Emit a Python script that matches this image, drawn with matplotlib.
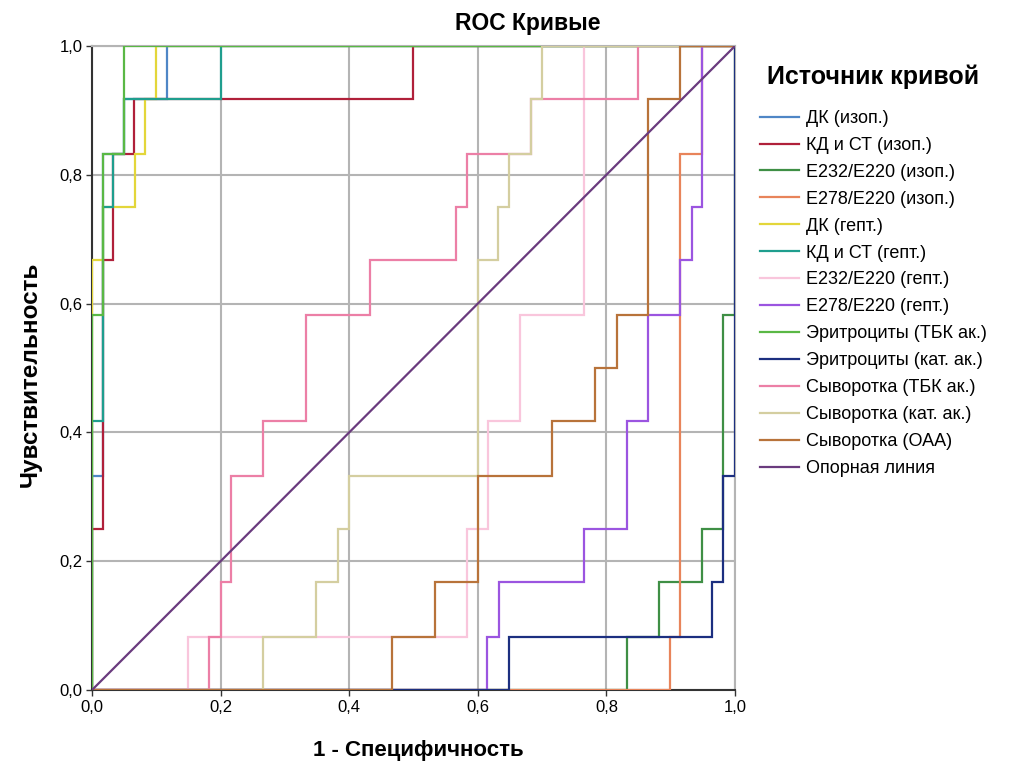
import matplotlib.pyplot as plt
from matplotlib.lines import Line2D

plt.rcParams['font.family'] = ['Liberation Sans', 'DejaVu Sans']

# ROC curve vertices (1 - specificity, sensitivity)
dk_izop_x = [0, 0, 0.0166, 0.0166, 0.05, 0.05, 0.116, 0.116, 1]
dk_izop_y = [0, 0.333, 0.333, 0.833, 0.833, 0.917, 0.917, 1, 1]

kd_izop_x = [0, 0, 0.0166, 0.0166, 0.033, 0.033, 0.066, 0.066, 0.5, 0.5, 1]
kd_izop_y = [0, 0.25, 0.25, 0.667, 0.667, 0.833, 0.833, 0.917, 0.917, 1, 1]

e232_izop_x = [0, 0.832, 0.832, 0.882, 0.882, 0.948, 0.948, 0.982, 0.982, 1, 1]
e232_izop_y = [0, 0, 0.083, 0.083, 0.167, 0.167, 0.25, 0.25, 0.583, 0.583, 1]

e278_izop_x = [0, 0.899, 0.899, 0.915, 0.915, 0.948, 0.948, 1]
e278_izop_y = [0, 0, 0.083, 0.083, 0.833, 0.833, 1, 1]

dk_gept_x = [0, 0, 0.0166, 0.0166, 0.067, 0.067, 0.083, 0.083, 0.1, 0.1, 1]
dk_gept_y = [0, 0.667, 0.667, 0.75, 0.75, 0.833, 0.833, 0.917, 0.917, 1, 1]

kd_gept_x = [0, 0, 0.0166, 0.0166, 0.033, 0.033, 0.05, 0.05, 0.2, 0.2, 1]
kd_gept_y = [0, 0.417, 0.417, 0.75, 0.75, 0.833, 0.833, 0.917, 0.917, 1, 1]

e232_gept_x = [0, 0.15, 0.15, 0.583, 0.583, 0.616, 0.616, 0.666, 0.666, 0.765, 0.765, 1]
e232_gept_y = [0, 0, 0.083, 0.083, 0.25, 0.25, 0.417, 0.417, 0.583, 0.583, 1, 1]

e278_gept_x = [0, 0.615, 0.615, 0.633, 0.633, 0.765, 0.765, 0.832, 0.832, 0.865, 0.865,
               0.915, 0.915, 0.933, 0.933, 0.948, 0.948, 1]
e278_gept_y = [0, 0, 0.083, 0.083, 0.167, 0.167, 0.25, 0.25, 0.417, 0.417, 0.583,
               0.583, 0.667, 0.667, 0.75, 0.75, 1, 1]

ery_tbk_x = [0, 0, 0.0166, 0.0166, 0.05, 0.05, 1]
ery_tbk_y = [0, 0.583, 0.583, 0.833, 0.833, 1, 1]

ery_kat_x = [0, 0.649, 0.649, 0.965, 0.965, 0.982, 0.982, 1, 1]
ery_kat_y = [0, 0, 0.083, 0.083, 0.167, 0.167, 0.333, 0.333, 1]

ser_tbk_x = [0, 0.182, 0.182, 0.2, 0.2, 0.216, 0.216, 0.266, 0.266, 0.333, 0.333, 0.432,
             0.432, 0.566, 0.566, 0.583, 0.583, 0.683, 0.683, 0.849, 0.849, 1]
ser_tbk_y = [0, 0, 0.083, 0.083, 0.167, 0.167, 0.333, 0.333, 0.417, 0.417, 0.583, 0.583,
             0.667, 0.667, 0.75, 0.75, 0.833, 0.833, 0.917, 0.917, 1, 1]

ser_kat_x = [0, 0.266, 0.266, 0.349, 0.349, 0.382, 0.382, 0.399, 0.399, 0.6, 0.6, 0.632,
             0.632, 0.648, 0.648, 0.683, 0.683, 0.7, 0.7, 1]
ser_kat_y = [0, 0, 0.083, 0.083, 0.167, 0.167, 0.25, 0.25, 0.333, 0.333, 0.667, 0.667,
             0.75, 0.75, 0.833, 0.833, 0.917, 0.917, 1, 1]

ser_oaa_x = [0, 0.466, 0.466, 0.533, 0.533, 0.6, 0.6, 0.715, 0.715, 0.782, 0.782, 0.816,
             0.816, 0.865, 0.865, 0.915, 0.915, 1]
ser_oaa_y = [0, 0, 0.083, 0.083, 0.167, 0.167, 0.333, 0.333, 0.417, 0.417, 0.5, 0.5,
             0.583, 0.583, 0.917, 0.917, 1, 1]

ref_x = [0, 1]
ref_y = [0, 1]

labels = ["ДК (изоп.)", "КД и СТ (изоп.)", "E232/E220 (изоп.)", "E278/E220 (изоп.)",
          "ДК (гепт.)", "КД и СТ (гепт.)", "E232/E220 (гепт.)", "E278/E220 (гепт.)",
          "Эритроциты (ТБК ак.)", "Эритроциты (кат. ак.)", "Сыворотка (ТБК ак.)",
          "Сыворотка (кат. ак.)", "Сыворотка (ОАА)", "Опорная линия"]

colors = ["#4f86c6", "#b0203a", "#3f8f45", "#e8845a", "#e3d63a", "#1f9e8e", "#f9c6dc",
          "#9b55e0", "#5ab845", "#1c2f80", "#ec7fa6", "#d4cea0", "#b8733a", "#6a3b7e"]

curves = [(dk_izop_x, dk_izop_y), (kd_izop_x, kd_izop_y), (e232_izop_x, e232_izop_y),
          (e278_izop_x, e278_izop_y), (dk_gept_x, dk_gept_y), (kd_gept_x, kd_gept_y),
          (e232_gept_x, e232_gept_y), (e278_gept_x, e278_gept_y), (ery_tbk_x, ery_tbk_y),
          (ery_kat_x, ery_kat_y), (ser_tbk_x, ser_tbk_y), (ser_kat_x, ser_kat_y),
          (ser_oaa_x, ser_oaa_y), (ref_x, ref_y)]

ticks = [0, 0.2, 0.4, 0.6, 0.8, 1.0]
tick_labels = ["0,0", "0,2", "0,4", "0,6", "0,8", "1,0"]

fig = plt.figure(figsize=(10.1, 7.67), dpi=100)
ax = fig.add_axes([0.0911, 0.1004, 0.6366, 0.8396])

for (xs, ys), c, lab in zip(curves, colors, labels):
    ax.plot(xs, ys, color=c, lw=1.6, label=lab, solid_joinstyle='miter', zorder=3)

ax.set_xlim(0, 1)
ax.set_ylim(0, 1)
ax.set_xticks(ticks)
ax.set_xticklabels(tick_labels)
ax.set_yticks(ticks)
ax.set_yticklabels(tick_labels)
ax.tick_params(labelsize=12, length=4, width=1, color='#333333', pad=3)
ax.grid(True, color='#b4b4b4', lw=1.5, zorder=0)
ax.set_axisbelow(True)

for side in ['top', 'right']:
    ax.spines[side].set_color('#b4b4b4')
    ax.spines[side].set_linewidth(1.5)
for side in ['left', 'bottom']:
    ax.spines[side].set_color('#333333')
    ax.spines[side].set_linewidth(1.5)

fig.text(0.414, 0.022, "1 - Специфичность", fontsize=16, fontweight='bold',
         ha='center', va='center')
fig.text(0.030, 0.512, "Чувствительность", fontsize=17.5, fontweight='bold',
         ha='center', va='center', rotation=90)
fig.text(0.523, 0.969, "ROC Кривые", fontsize=16.5, fontweight='bold', ha='center', va='center')

handles = [Line2D([0], [0], color=c, lw=1.6) for c in colors]
leg = fig.legend(handles, labels, loc='upper left', bbox_to_anchor=(0.736, 0.937),
                 frameon=False, fontsize=13, handlelength=2.2, handletextpad=0.35,
                 labelspacing=0.55, title="Источник кривой",
                 title_fontproperties={'size': 18, 'weight': 'bold'})
leg._legend_box.sep = 15

fig.savefig("out.png", dpi=100)
